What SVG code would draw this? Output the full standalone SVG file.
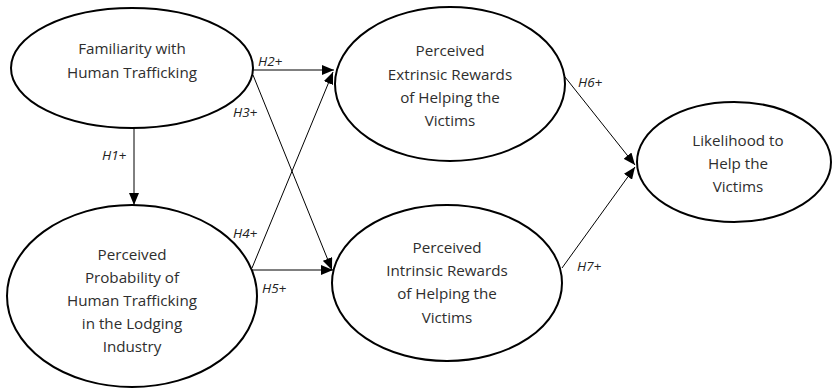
<svg xmlns="http://www.w3.org/2000/svg" width="834" height="389" viewBox="0 0 834 389">
<style>
.node ellipse{fill:#fff;stroke:#000;stroke-width:2}
.node text{font-family:"Open Sans","Liberation Sans",sans-serif;font-size:15.2px;fill:#2e2e2e;text-anchor:middle}
.conn line{stroke:#000;stroke-width:1;marker-end:url(#ah)}
.lbl{font-family:"Open Sans","Liberation Sans",sans-serif;font-size:13.5px;font-style:italic;fill:#222}
</style>
<defs>
<marker id="ah" viewBox="0 0 12 10" refX="12" refY="5" markerWidth="12" markerHeight="10" markerUnits="userSpaceOnUse" orient="auto">
<path d="M0,0 L12,5 L0,10 z" fill="#000"/>
</marker>
</defs>
<rect width="834" height="389" fill="#fff"/>
<g class="conn">
<line x1="134" y1="128" x2="134" y2="205"/>
<line x1="253" y1="70" x2="334" y2="70"/>
<line x1="253" y1="75" x2="332" y2="270"/>
<line x1="252" y1="268" x2="333" y2="72"/>
<line x1="252" y1="270" x2="333" y2="270"/>
<line x1="565" y1="77" x2="635" y2="165"/>
<line x1="562" y1="268" x2="635" y2="167"/>
</g>
<g class="labels">
<text class="lbl" x="102" y="160">H1+</text>
<text class="lbl" x="258" y="66">H2+</text>
<text class="lbl" x="233" y="117">H3+</text>
<text class="lbl" x="233" y="238">H4+</text>
<text class="lbl" x="262" y="293">H5+</text>
<text class="lbl" x="578" y="87">H6+</text>
<text class="lbl" x="577" y="271">H7+</text>
</g>
<g class="node" id="familiarity">
<ellipse cx="132" cy="68" rx="121" ry="60"/>
<text x="132" y="54">Familiarity with</text>
<text x="132" y="78">Human Trafficking</text>
</g>
<g class="node" id="probability">
<ellipse cx="132" cy="296" rx="125" ry="91"/>
<text x="132" y="260">Perceived</text>
<text x="132" y="283">Probability of</text>
<text x="132" y="306">Human Trafficking</text>
<text x="132" y="329">in the Lodging</text>
<text x="132" y="352">Industry</text>
</g>
<g class="node" id="extrinsic">
<ellipse cx="450" cy="84" rx="115" ry="77"/>
<text x="450" y="56">Perceived</text>
<text x="450" y="80">Extrinsic Rewards</text>
<text x="450" y="103">of Helping the</text>
<text x="450" y="126">Victims</text>
</g>
<g class="node" id="intrinsic">
<ellipse cx="447" cy="283" rx="115" ry="78"/>
<text x="447" y="253">Perceived</text>
<text x="447" y="276">Intrinsic Rewards</text>
<text x="447" y="299">of Helping the</text>
<text x="447" y="323">Victims</text>
</g>
<g class="node" id="likelihood">
<ellipse cx="734" cy="162" rx="97" ry="60"/>
<text x="738" y="146">Likelihood to</text>
<text x="738" y="169">Help the</text>
<text x="738" y="192">Victims</text>
</g>
</svg>
